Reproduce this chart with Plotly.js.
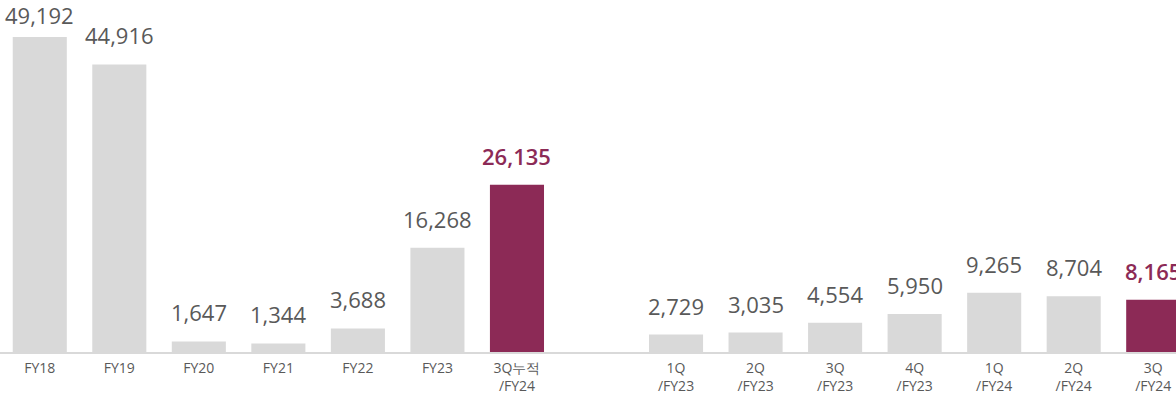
<!DOCTYPE html>
<html>
<head>
<meta charset="utf-8">
<script src="https://cdn.plot.ly/plotly-3.0.1.min.js"></script>
<style>
html, body { margin: 0; padding: 0; overflow: hidden; background: #fff; width: 1176px; height: 401px; }
#chart { width: 1193px; height: 401px; }
</style>
</head>
<body>
<div id="chart"></div>
<script>
const periodLabels = ['FY18', 'FY19', 'FY20', 'FY21', 'FY22', 'FY23', '3Q누적<br>/FY24'];
const periodValues = [49192, 44916, 1647, 1344, 3688, 16268, 26135];
const quarterLabels = ['1Q<br>/FY23', '2Q<br>/FY23', '3Q<br>/FY23', '4Q<br>/FY23', '1Q<br>/FY24', '2Q<br>/FY24', '3Q<br>/FY24'];
const quarterValues = [2729, 3035, 4554, 5950, 9265, 8704, 8165];

const GREY = '#d9d9d9';
const HIGHLIGHT = '#8c2a56';
const Y_MAX = 54970;
const PLOT_H = 352;

const periodIds = periodLabels.map((_, i) => 'p' + i);
const quarterIds = quarterLabels.map((_, i) => 'q' + i);
const gapId = 'gap';
const allIds = [...periodIds, gapId, ...quarterIds];
const allTickText = [...periodLabels, '', ...quarterLabels];

function colorsFor(values) {
  return values.map((_, i) => i === values.length - 1 ? HIGHLIGHT : GREY);
}

const traces = [
  { type: 'bar', x: periodIds, y: periodValues, marker: { color: colorsFor(periodValues) }, hoverinfo: 'none' },
  { type: 'bar', x: quarterIds, y: quarterValues, marker: { color: colorsFor(quarterValues) }, hoverinfo: 'none' }
];

const annotations = [];
function addLabels(ids, values) {
  values.forEach((v, i) => {
    const hi = i === values.length - 1;
    // keep labels inside the top edge: shrink the gap for the tallest bar
    const topPx = PLOT_H - v / Y_MAX * PLOT_H;
    const shift = Math.max(4, Math.min(12, topPx - 32));
    annotations.push({
      x: ids[i], y: v, xref: 'x', yref: 'y',
      text: v.toLocaleString('en-US'),
      showarrow: false, yanchor: 'bottom', yshift: shift,
      font: { family: 'Open Sans', size: 22, weight: hi ? 600 : 400, color: hi ? HIGHLIGHT : '#595959' }
    });
  });
}
addLabels(periodIds, periodValues);
addLabels(quarterIds, quarterValues);

const layout = {
  width: 1193, height: 401,
  margin: { l: 0, r: 0, t: 0, b: 49 },
  paper_bgcolor: '#ffffff', plot_bgcolor: '#ffffff',
  showlegend: false,
  barmode: 'overlay',
  bargap: 0.32,
  xaxis: {
    type: 'category', categoryorder: 'array', categoryarray: allIds,
    tickvals: allIds, ticktext: allTickText,
    range: [-0.5, allIds.length - 0.5],
    showline: true, linecolor: GREY, linewidth: 2,
    showgrid: false, zeroline: false, ticks: '',
    ticklabelstandoff: 2,
    tickfont: { family: 'Open Sans', size: 14, color: '#595959' },
    fixedrange: true
  },
  yaxis: {
    range: [0, Y_MAX], visible: false, showgrid: false, zeroline: false, fixedrange: true
  },
  annotations: annotations
};

Plotly.newPlot('chart', traces, layout, { displayModeBar: false, staticPlot: true });
</script>
</body>
</html>
